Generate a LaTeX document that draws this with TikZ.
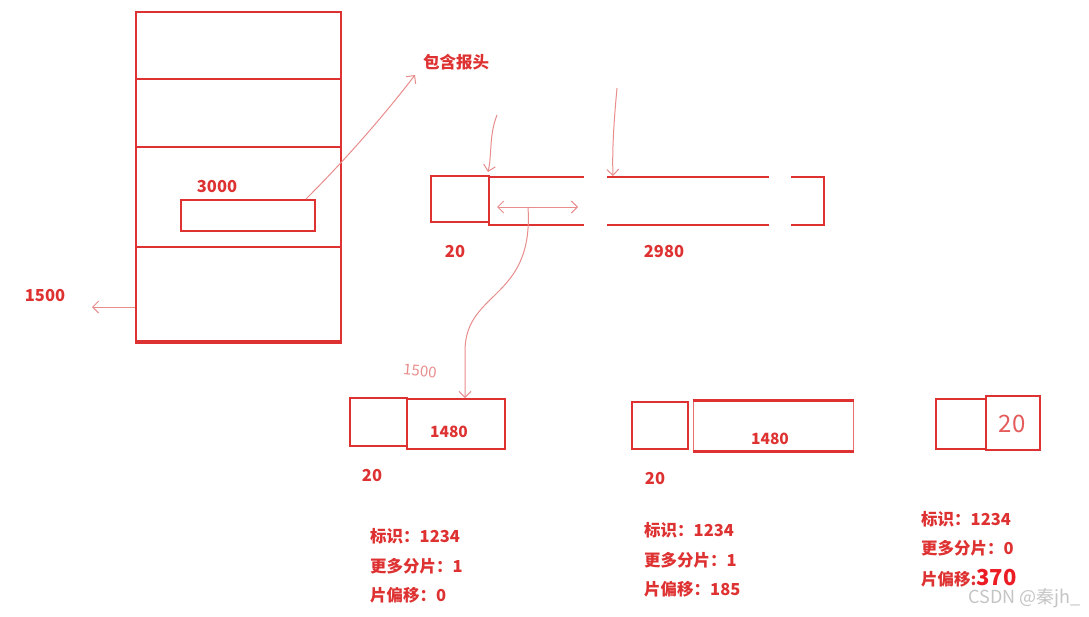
\documentclass[tikz,border=0pt]{standalone}
\usepackage{fontspec}
\setmainfont{Noto Sans CJK SC}
\usetikzlibrary{arrows.meta,positioning}
\definecolor{penred}{RGB}{222,50,50}
\definecolor{brightred}{RGB}{236,28,36}
\definecolor{inkpink}{RGB}{232,140,140}
\definecolor{markgrey}{RGB}{196,196,196}
\tikzset{
  box/.style={draw=penred, line width=2pt, inner sep=0pt},
  lbl/.style={text=penred, font=\bfseries\fontsize{16.5}{19}\selectfont, inner sep=0pt},
  hand/.style={draw=inkpink, line width=1pt, -{Straight Barb[length=6pt,width=12pt]}},
}

\begin{document}
\begin{tikzpicture}[x=1pt, y=-1pt]
        \useasboundingbox (0,0) rectangle (1089,616);

        % Whole packet (left)
        \node[box, minimum width=205pt, minimum height=329pt] (pkt) at (238.5,176.5) {};
        \draw[penred,line width=3pt] (pkt.south west) -- (pkt.south east);
        \foreach \y in {79,147,247}{
          \draw[penred,line width=1.6pt] (pkt.west |- 0,\y) -- (pkt.east |- 0,\y);
        }
        \node[box, line width=1.6pt, minimum width=134pt, minimum height=31pt] (seg) at (248,215.5) {};
        \node[lbl] (seglbl) at (217,187) {3000};

        % Header note
        \node[lbl] (hdrlbl) at (456,62) {包含报头};
        \coordinate (hdrtip) at (415,75);
        \draw[hand] ([xshift=-10pt]seg.north east) .. controls (355,150) and (392,105) .. (hdrtip);

        % MTU note
        \node[lbl] (mtu) at (45,296) {1500};
        \coordinate (mtutip) at (92,307);
        \draw[hand] (pkt.west |- 0,307) -- (mtutip);

        % Split datagram (top)
        \node[box, minimum width=58pt, minimum height=46pt] (hdr0) at (460,199) {};
        \draw[penred,line width=2pt] (489,177) -- (584,177) (607,177) -- (769,177)
          (791,177) -- (824,177) -- (824,225) -- (791,225)
          (769,225) -- (607,225) (584,225) -- (489,225) -- (489,177);
        \node[lbl] (len0) at (455,252) {20};
        \node[lbl] (len1) at (664,252) {2980};
        \coordinate (cut0) at (488,172);
        \coordinate (cut1) at (613,176);
        \draw[hand] (497,115) .. controls (489,135) and (492,155) .. (cut0);
        \draw[hand] (617,88) .. controls (614,120) and (612,150) .. (cut1);
        \draw[hand, {Straight Barb[length=6pt,width=12pt]}-{Straight Barb[length=6pt,width=12pt]}]
          (497,207) -- (578,207);

        % Fragment 1
        \node[box, minimum width=57pt, minimum height=48pt] (hdr1) at (378.5,422) {};
        \node[box, minimum width=98pt, minimum height=50pt] (dat1) at (456,424) {};
        \node[lbl, font=\bfseries\fontsize{15.5}{18}\selectfont] at (449,432) {1480};
        \node[lbl] (len2) at (372,476) {20};
        \node[text=inkpink, font=\fontsize{15}{18}\selectfont, rotate=-5] (hand1) at (420,371) {1500};
        \draw[hand] (528,207) .. controls (534,300) and (466,290) .. (465,350) -- (dat1.north -| 465,0);

        % Fragment 2
        \node[box, minimum width=56pt, minimum height=47pt] (hdr2) at (660,425.5) {};
        \node[draw=penred!70, line width=1pt, inner sep=0pt, minimum width=160pt, minimum height=50pt] (dat2) at (773,426) {};
        \draw[penred,line width=2.2pt] (dat2.north west) -- (dat2.north east) (dat2.south west) -- (dat2.south east);
        \node[lbl, font=\bfseries\fontsize{15.5}{18}\selectfont] at (770,439) {1480};
        \node[lbl] (len3) at (655,479) {20};

        % Fragment 3
        \node[box, minimum width=50pt, minimum height=50pt] (hdr3) at (961,424) {};
        \node[box, minimum width=54pt, minimum height=54pt] (dat3) at (1013,423) {};
        \node[text=penred!80, font=\fontsize{24}{28}\selectfont] (hand3) at (1012,424) {20};

        % Fragment fields
        \foreach \cx/\cy/\more/\offs in {370/536/1/0, 644/530/1/185}{
          \node[lbl, anchor=west] (id\cx) at (\cx,\cy) {标识：1234};
          \node[lbl, anchor=west] (mf\cx) at (\cx,\cy+30) {更多分片：\more};
          \node[lbl, anchor=west] (off\cx) at (\cx,\cy+59) {片偏移：\offs};
        }
        \node[lbl, anchor=west] (id3) at (921,519) {标识：1234};
        \node[lbl, anchor=west] (mf3) at (921,548) {更多分片：0};
        \node[lbl, anchor=west] (off3) at (921,578) {片偏移:{\color{brightred}\fontsize{22}{24}\selectfont 370}};

        % Watermark
        \node[text=markgrey, font=\fontsize{18}{21}\selectfont, anchor=east] (mark) at (1084,598) {CSDN @秦jh\_};
      \end{tikzpicture}
\end{document}
